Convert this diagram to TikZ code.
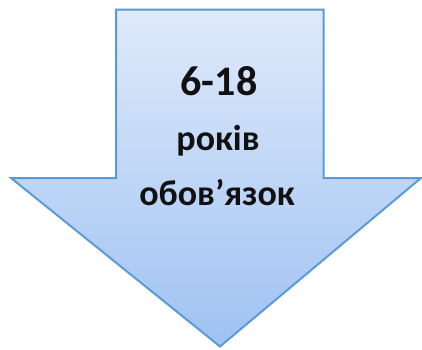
\documentclass[tikz,border=0pt]{standalone}
\usepackage{fontspec}
\setmainfont{Carlito}
\definecolor{arrowtop}{HTML}{DFEAFA}
\definecolor{arrowbot}{HTML}{9FC2F3}
\definecolor{arrowline}{HTML}{5B9BD5}
\definecolor{txt}{HTML}{111111}
\tikzset{
  arrowshape/.style={top color=arrowtop, bottom color=arrowbot, draw=arrowline, line width=2pt, line join=miter},
  bigtxt/.style={anchor=base, font=\bfseries\fontsize{42}{42}\selectfont, text=txt, inner sep=0pt},
  smalltxt/.style={anchor=base, font=\bfseries\fontsize{36}{36}\selectfont, text=txt, inner sep=0pt}
}
\begin{document}
\begin{tikzpicture}[x=1pt,y=-1pt]
\useasboundingbox (0,0) rectangle (422,349);
\path[arrowshape] (116,9.5) -- (323.5,9.5) -- (323.5,178) -- (421,178) -- (220,346.5) -- (11,178) -- (116,178) -- cycle;
\node[bigtxt] (num) at (219,95) {6-18};
\node[smalltxt] (rokiv) at (218,150) {років};
\node[smalltxt] (obov) at (217,205) {обов’язок};
\end{tikzpicture}
\end{document}
